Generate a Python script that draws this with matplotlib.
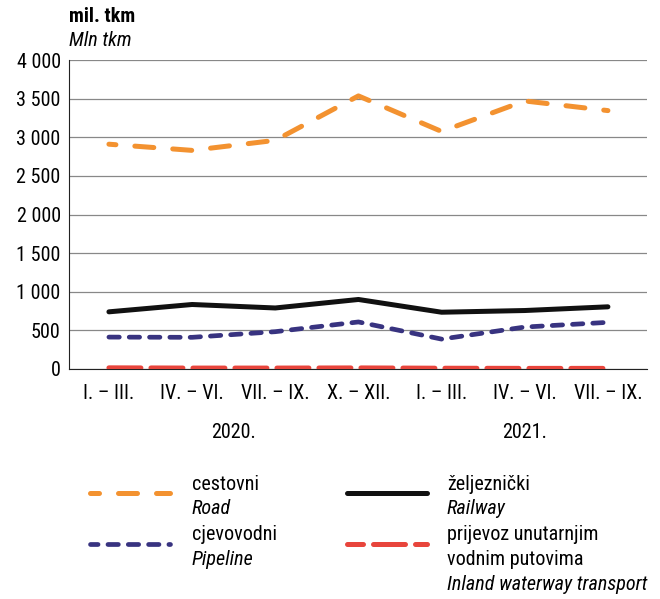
import numpy as np
import matplotlib
matplotlib.use("Agg")
import matplotlib.pyplot as plt
from matplotlib.lines import Line2D
from matplotlib.ticker import FuncFormatter

# data
periods = ["I. – III.", "IV. – VI.", "VII. – IX.", "X. – XII.", "I. – III.", "IV. – VI.", "VII. – IX."]
years = ["2020.", "2021."]
road = [2910, 2830, 2960, 3535, 3075, 3470, 3345]
railway = [740, 835, 790, 900, 735, 757, 805]
pipeline = [413, 410, 483, 609, 387, 543, 604]
inland = [15, 12, 12, 14, 10, 8, 8]

plt.rcParams['font.family'] = ['Liberation Sans Narrow', 'Roboto Condensed', 'DejaVu Sans']

fig = plt.figure(figsize=(6.6, 5.99), dpi=100)
ax = fig.add_axes([69 / 660, 1 - 369 / 599, 578 / 660, 309 / 599])

x = np.arange(len(periods))
# line styles: (dash offset, pattern) in linewidth units
styles = {
    "road": dict(color="#F39230", lw=3.6, dash_capstyle="round"),
    "railway": dict(color="#111111", lw=3.6, solid_capstyle="round"),
    "pipeline": dict(color="#383380", lw=3.4, dash_capstyle="round"),
    "inland": dict(color="#E8453C", lw=3.6, dash_capstyle="round"),
}
patterns = {"road": (3.8, 3.8), "railway": None, "pipeline": (2.2, 2.1), "inland": (6.4, 2.0)}

ax.plot(x, road, ls=(2.4, patterns["road"]), **styles["road"], zorder=3)
ax.plot(x, railway, ls="-", **styles["railway"], zorder=3)
ax.plot(x, pipeline, ls=(0, patterns["pipeline"]), **styles["pipeline"], zorder=3)
ax.plot(x, inland, ls=(0, patterns["inland"]), **styles["inland"], zorder=3)

ax.set_xlim(-0.48, 6.47)
ax.set_ylim(0, 4000)
ax.set_yticks(np.arange(0, 4001, 500))
ax.yaxis.set_major_formatter(FuncFormatter(lambda v, p: f"{int(v):,}".replace(",", " ")))
ax.grid(axis="y", color="#888888", lw=0.9)
ax.set_axisbelow(True)
for s in ["top", "right"]:
    ax.spines[s].set_visible(False)
ax.spines["left"].set_color("#222222")
ax.spines["bottom"].set_color("#222222")
ax.tick_params(length=0, labelsize=14.5, pad=6)
ax.set_xticks(x)
ax.set_xticklabels(periods)
ax.tick_params(axis="x", pad=11)

# year labels
for label, pos in zip(years, [1.5, 5.0]):
    ax.annotate(label, xy=(pos, 0), xycoords=("data", "axes fraction"), xytext=(0, -46),
                textcoords="offset points", ha="center", va="center", fontsize=14.5)

fig.text(69 / 660, 1 - 17 / 599, "mil. tkm", fontsize=14.5, fontweight="bold", ha="left", va="center")
fig.text(69 / 660, 1 - 41 / 599, "Mln tkm", fontsize=14.5, style="italic", ha="left", va="center")

# legend
legend_offsets = {"road": 2.0, "pipeline": 0.6, "inland": 3.2}

def legend_entry(xpx, ypx, key, lines, textgap):
    ls = "-" if patterns[key] is None else (legend_offsets[key], patterns[key])
    fig.add_artist(Line2D([xpx / 660, (xpx + 80) / 660], [1 - ypx / 599] * 2,
                          transform=fig.transFigure, ls=ls, **styles[key]))
    ty = ypx - 9
    for txt, ital in lines:
        fig.text((xpx + textgap) / 660, 1 - ty / 599, txt, fontsize=14.5,
                 style="italic" if ital else "normal", ha="left", va="center")
        ty += 24.5

legend_entry(90, 493, "road", [("cestovni", False), ("Road", True)], 102)
legend_entry(347, 493, "railway", [("željeznički", False), ("Railway", True)], 100)
legend_entry(90, 544, "pipeline", [("cjevovodni", False), ("Pipeline", True)], 102)
legend_entry(347, 544, "inland",
             [("prijevoz unutarnjim", False), ("vodnim putovima", False), ("Inland waterway transport", True)], 100)

fig.savefig("out.png", dpi=100)
